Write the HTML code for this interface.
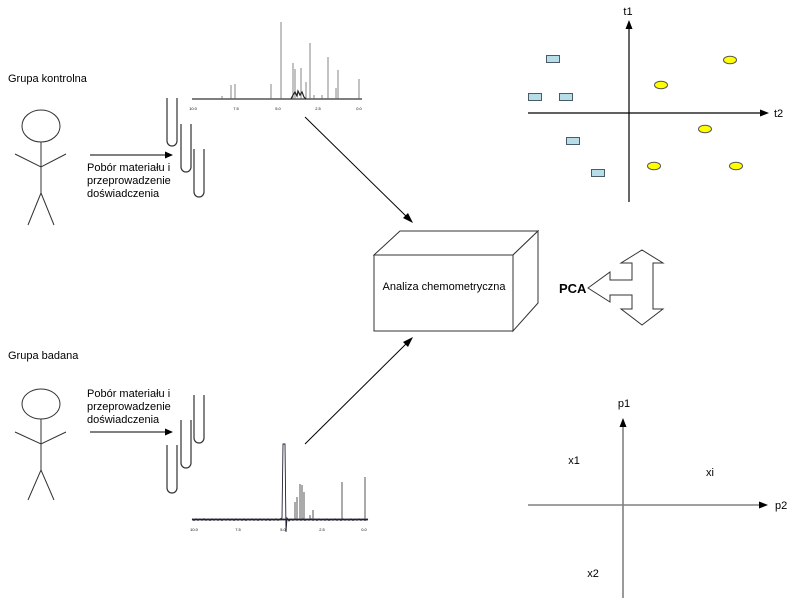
<!DOCTYPE html>
<html><head><meta charset="utf-8"><style>
html,body{margin:0;padding:0;background:#fff;}
svg{display:block;}
text{font-family:"Liberation Sans",Arial,sans-serif;fill:#000;}
</style></head><body>
<svg width="799" height="600" viewBox="0 0 799 600" xmlns="http://www.w3.org/2000/svg">
<rect width="799" height="600" fill="#fff"/>

<!-- Top group -->
<text x="8" y="82" font-size="11">Grupa kontrolna</text>
<g stroke="#333" stroke-width="1" fill="none">
  <ellipse cx="41" cy="126" rx="19" ry="16"/>
  <line x1="41" y1="142" x2="41" y2="193"/>
  <polyline points="15,154 41,167 66,154"/>
  <polyline points="28,225 41,193 54,225"/>
</g>
<line x1="90" y1="155" x2="166" y2="155" stroke="#000" stroke-width="1"/>
<polygon points="173,155 165,151.5 165,158.5" fill="#000"/>
<text font-size="11"><tspan x="87" y="171">Pobór materiału i</tspan><tspan x="87" y="184">przeprowadzenie</tspan><tspan x="87" y="197">doświadczenia</tspan></text>
<g stroke="#333" stroke-width="1.2" fill="none">
  <path d="M167,98 L167,141 A5,5 0 0 0 177,141 L177,98"/>
  <path d="M181,124 L181,167 A5,5 0 0 0 191,167 L191,124"/>
  <path d="M194,149 L194,192 A5,5 0 0 0 204,192 L204,149"/>
</g>

<!-- Top spectrum -->
<g>
  <line x1="192" y1="99" x2="362" y2="99" stroke="#333" stroke-width="1.2"/>
  <g stroke="#666" stroke-width="0.8">
    <line x1="231" y1="99" x2="231" y2="85"/>
    <line x1="235" y1="99" x2="235" y2="84"/>
    <line x1="271" y1="99" x2="271" y2="84"/>
    <line x1="281" y1="99" x2="281" y2="22"/>
    <line x1="293" y1="99" x2="293" y2="63"/>
    <line x1="295" y1="99" x2="295" y2="69"/>
    <line x1="301" y1="99" x2="301" y2="68"/>
    <line x1="306" y1="99" x2="306" y2="82"/>
    <line x1="310" y1="99" x2="310" y2="43"/>
    <line x1="328" y1="99" x2="328" y2="57"/>
    <line x1="336" y1="99" x2="336" y2="88"/>
    <line x1="338" y1="99" x2="338" y2="70"/>
    <line x1="359" y1="99" x2="359" y2="79"/>
    <line x1="222" y1="99" x2="222" y2="96"/>
    <line x1="314" y1="99" x2="314" y2="95"/>
    <line x1="322" y1="99" x2="322" y2="95"/>
  </g>
  <polyline points="291,99 293,95 295,92 297,96 298,91 300,95 302,92 304,97 306,99" fill="none" stroke="#222" stroke-width="1.2"/>
  <g font-size="4">
    <text x="193" y="110" text-anchor="middle" fill="#888">10.0</text>
    <text x="236" y="110" text-anchor="middle" fill="#888">7.5</text>
    <text x="278" y="110" text-anchor="middle" fill="#888">5.0</text>
    <text x="318" y="110" text-anchor="middle" fill="#888">2.5</text>
    <text x="359" y="110" text-anchor="middle" fill="#888">0.0</text>
  </g>
</g>

<!-- arrow top spectrum -> box -->
<line x1="305" y1="117" x2="409" y2="219" stroke="#000" stroke-width="1"/>
<polygon points="413,223 403,218 408,213" fill="#000"/>

<!-- Box -->
<g stroke="#333" stroke-width="1" fill="#fff">
  <polygon points="374,255 400,231 538,231 513,255"/>
  <polygon points="513,255 538,231 538,303 513,331"/>
  <rect x="374" y="255" width="139" height="76"/>
</g>
<text x="444" y="290" font-size="11" text-anchor="middle">Analiza chemometryczna</text>

<!-- arrow bottom spectrum -> box -->
<line x1="305" y1="444" x2="409" y2="341" stroke="#000" stroke-width="1"/>
<polygon points="413,337 408,347 403,342" fill="#000"/>

<!-- PCA -->
<text x="559" y="293" font-size="13" font-weight="bold">PCA</text>
<polygon points="588,288 610,272 610,280 632,280 632,263 621,263 642,250 663,263 653,263 653,309 663,309 642,325 621,309 632,309 632,295 610,295 610,302" fill="#fff" stroke="#333" stroke-width="1"/>

<!-- Top scatter -->
<line x1="629" y1="28" x2="629" y2="202" stroke="#000" stroke-width="1.2"/>
<polygon points="629,20 625.5,29 632.5,29" fill="#000"/>
<line x1="528" y1="113" x2="761" y2="113" stroke="#000" stroke-width="1.2"/>
<polygon points="769,113 760,109.5 760,116.5" fill="#000"/>
<text x="628" y="15" font-size="11" text-anchor="middle">t1</text>
<text x="774" y="117" font-size="11">t2</text>
<g fill="#b7dde8" stroke="#4a5a66" stroke-width="1">
  <rect x="546.5" y="55.5" width="13" height="7"/>
  <rect x="528.5" y="93.5" width="13" height="7"/>
  <rect x="559.5" y="93.5" width="13" height="7"/>
  <rect x="566.5" y="137.5" width="13" height="7"/>
  <rect x="591.5" y="169.5" width="13" height="7"/>
</g>
<g fill="#ffff00" stroke="#555" stroke-width="1">
  <ellipse cx="730" cy="60" rx="6.5" ry="3.8"/>
  <ellipse cx="661" cy="85" rx="6.5" ry="3.8"/>
  <ellipse cx="705" cy="129" rx="6.5" ry="3.8"/>
  <ellipse cx="654" cy="166" rx="6.5" ry="3.8"/>
  <ellipse cx="736" cy="166" rx="6.5" ry="3.8"/>
</g>

<!-- Bottom group -->
<text x="8" y="359" font-size="11">Grupa badana</text>
<g stroke="#333" stroke-width="1" fill="none">
  <ellipse cx="41" cy="404" rx="19" ry="15"/>
  <line x1="41" y1="419" x2="41" y2="470"/>
  <polyline points="15,432 41,444 66,432"/>
  <polyline points="28,500 41,470 54,500"/>
</g>
<text font-size="11"><tspan x="87" y="397">Pobór materiału i</tspan><tspan x="87" y="410">przeprowadzenie</tspan><tspan x="87" y="423">doświadczenia</tspan></text>
<line x1="90" y1="432" x2="166" y2="432" stroke="#000" stroke-width="1"/>
<polygon points="173,432 165,428.5 165,435.5" fill="#000"/>
<g stroke="#333" stroke-width="1.2" fill="none">
  <path d="M167,445 L167,488 A5,5 0 0 0 177,488 L177,445"/>
  <path d="M181,420 L181,463 A5,5 0 0 0 191,463 L191,420"/>
  <path d="M194,395 L194,438 A5,5 0 0 0 204,438 L204,395"/>
</g>

<!-- Bottom spectrum -->
<g>
  <line x1="192" y1="519.5" x2="368" y2="519.5" stroke="#223" stroke-width="1.8"/>
  <polyline points="192,519 194,520.5 196,518.8 198,520.4 200,518.9 202,520.3 204,518.7 206,520.4 208,519 210,520.5 212,518.8 214,520.3 216,518.9 218,520.4 220,518.8 222,520.5 224,519 226,520.3 228,518.8 230,520.4 232,518.9 234,520.5 236,518.8 238,520.3 240,519 242,520.4 244,518.8 246,520.5 248,519 250,520.3 252,518.8 254,520.4 256,518.9 258,520.5 260,518.8 262,520.3 264,519 266,520.4 268,518.8 270,520.5 272,519 274,520.3 276,518.8 278,520.4 280,519 282,518 283,444 285,444 286,532 287,518 289,521 291,519 293,520.4 295,518.8 297,520.3 299,519 301,520.4 303,518.8 305,520.5 307,519 309,520.3 311,518.8 313,520.4 315,518.9 317,520.5 319,518.8 321,520.3 323,519 325,520.4 327,518.8 329,520.5 331,519 333,520.3 335,518.8 337,520.4 339,518.9 341,520.5 343,518.8 345,520.3 347,519 349,520.4 351,518.8 353,520.5 355,519 357,520.3 359,518.8 361,520.4 363,518.9 365,520.5 368,519" fill="none" stroke="#223" stroke-width="0.9"/>
  <g stroke="#444" stroke-width="0.9">
    <line x1="295" y1="519" x2="295" y2="502"/>
    <line x1="297" y1="519" x2="297" y2="497"/>
    <line x1="300" y1="519" x2="300" y2="484"/>
    <line x1="302" y1="519" x2="302" y2="485"/>
    <line x1="304" y1="519" x2="304" y2="492"/>
    <line x1="310" y1="519" x2="310" y2="515"/>
    <line x1="313" y1="519" x2="313" y2="510"/>
    <line x1="342" y1="519" x2="342" y2="482"/>
    <line x1="365" y1="519" x2="365" y2="477"/>
  </g>
  <g font-size="4">
    <text x="194" y="531" text-anchor="middle" fill="#888">10.0</text>
    <text x="238" y="531" text-anchor="middle" fill="#888">7.5</text>
    <text x="283" y="531" text-anchor="middle" fill="#888">5.0</text>
    <text x="322" y="531" text-anchor="middle" fill="#888">2.5</text>
    <text x="364" y="531" text-anchor="middle" fill="#888">0.0</text>
  </g>
</g>

<!-- Bottom plot -->
<line x1="623" y1="426" x2="623" y2="598" stroke="#808080" stroke-width="1.6"/>
<polygon points="623,418 619.5,427 626.5,427" fill="#000"/>
<line x1="528" y1="505" x2="760" y2="505" stroke="#808080" stroke-width="1.6"/>
<polygon points="768,505 759,501.5 759,508.5" fill="#000"/>
<text x="624" y="407" font-size="11" text-anchor="middle">p1</text>
<text x="775" y="509" font-size="11">p2</text>
<text x="574" y="464" font-size="11" text-anchor="middle">x1</text>
<text x="710" y="476" font-size="11" text-anchor="middle">xi</text>
<text x="593" y="577" font-size="11" text-anchor="middle">x2</text>
</svg>
</body></html>
